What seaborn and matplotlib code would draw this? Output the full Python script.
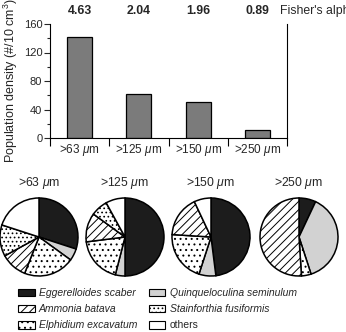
import numpy as np
import pandas as pd
import matplotlib.pyplot as plt
import matplotlib.patches as mpatches
import seaborn as sns

# size fractions, population density and diversity
size_labels = ['>63 $\\mu$m', '>125 $\\mu$m', '>150 $\\mu$m', '>250 $\\mu$m']
density = [142, 62, 51, 11]
fisher_alpha = ['4.63', '2.04', '1.96', '0.89']

# species composition (%) per size fraction, clockwise from 12 o'clock
species = ['Eggerelloides scaber', 'Quinqueloculina seminulum', 'Elphidium excavatum',
           'Ammonia batava', 'Stainforthia fusiformis', 'others']
share_63 = [30, 5, 21, 11, 13, 20]
share_125 = [50, 4, 19, 12, 7, 8]
share_150 = [48, 7, 21, 17, 0, 7]
share_250 = [7, 38, 4, 51, 0, 0]

colors = ['#1c1c1c', '#d2d2d2', 'white', 'white', 'white', 'white']
hatches = ['', '', '...', '////', '....', '']


def main():
    sns.set_theme(style='ticks')
    plt.rcParams['font.family'] = ['Liberation Sans', 'DejaVu Sans']
    plt.rcParams['mathtext.fontset'] = 'custom'
    plt.rcParams['mathtext.rm'] = 'Liberation Sans'
    plt.rcParams['mathtext.it'] = 'Liberation Sans:italic'
    plt.rcParams['font.size'] = 8.5
    plt.rcParams['hatch.linewidth'] = 0.7

    W, H = 346, 332
    fig = plt.figure(figsize=(W / 100, H / 100), dpi=100)

    # Bar chart of population density
    ax = fig.add_axes([50 / W, 1 - 138 / H, 237 / W, 114 / H])
    df = pd.DataFrame({'size': size_labels, 'density': density})
    sns.barplot(data=df, x='size', y='density', color='#7b7b7b', saturation=1,
                edgecolor='black', linewidth=0.9, width=0.42, ax=ax)
    ax.set_xlim(-0.5, 3.5)
    ax.set_ylim(0, 160)
    ax.set_yticks([0, 40, 80, 120, 160])
    ax.set_yticks([20, 60, 100, 140], minor=True)
    ax.set_xticks(np.arange(-0.5, 4, 1))
    ax.set_xticklabels([])
    ax.set_xticks(range(4), minor=True)
    ax.set_xticklabels(size_labels, minor=True)
    ax.tick_params(axis='x', which='major', length=6, width=0.8, color='black')
    ax.tick_params(axis='x', which='minor', length=0, pad=3, labelsize=8.5)
    ax.tick_params(axis='y', which='major', length=4, width=0.8, labelsize=8, pad=1.5)
    ax.tick_params(axis='y', which='minor', length=2.5, width=0.8)
    for s in ['left', 'bottom', 'right']:
        ax.spines[s].set_color('black')
        ax.spines[s].set_linewidth(0.8)
    ax.spines['top'].set_visible(False)
    ax.set_xlabel('')
    ax.set_ylabel('Population density (#/10 cm$^3$)', fontsize=9, labelpad=3)

    # Fisher's alpha above each bar
    for i, a in enumerate(fisher_alpha):
        ax.text(i, 1.11, a, transform=ax.get_xaxis_transform(), ha='center',
                va='center', fontweight='bold', fontsize=8.8)
    ax.text(3.38, 1.11, "Fisher's alpha", transform=ax.get_xaxis_transform(),
            ha='left', va='center', fontsize=8.8)

    # Pie charts of species composition
    shares = [share_63, share_125, share_150, share_250]
    centers = [39, 125, 211, 299]
    half = 44
    for cx, share, title in zip(centers, shares, size_labels):
        pax = fig.add_axes([(cx - half) / W, 1 - (237 + half) / H, 2 * half / W, 2 * half / H])
        keep = [k for k, v in enumerate(share) if v > 0]
        wedges, _ = pax.pie([share[k] for k in keep], colors=[colors[k] for k in keep],
                            startangle=90, counterclock=False, radius=39 / half,
                            wedgeprops=dict(edgecolor='black', linewidth=1.1))
        for w, k in zip(wedges, keep):
            w.set_hatch(hatches[k])
        pax.set_xlim(-1, 1)
        pax.set_ylim(-1, 1)
        pax.text(0, 54 / half, title, ha='center', va='center', fontsize=8.8)

    # Legend
    order = [0, 3, 2, 1, 4, 5]
    handles = [mpatches.Patch(facecolor=colors[k], edgecolor='black', hatch=hatches[k],
                              linewidth=0.8) for k in order]
    labels = [species[k] for k in order]
    leg = fig.legend(handles, labels, loc='upper left', bbox_to_anchor=(18 / W, 1 - 288 / H),
                     ncol=2, frameon=False, borderpad=0, borderaxespad=0,
                     handlelength=1.6, handleheight=0.7, handletextpad=0.4,
                     columnspacing=1.1, labelspacing=0.6, fontsize=7.5)
    for t in leg.get_texts()[:-1]:
        t.set_fontstyle('italic')

    fig.savefig('out.png', dpi=100)


if __name__ == "__main__":
    main()
